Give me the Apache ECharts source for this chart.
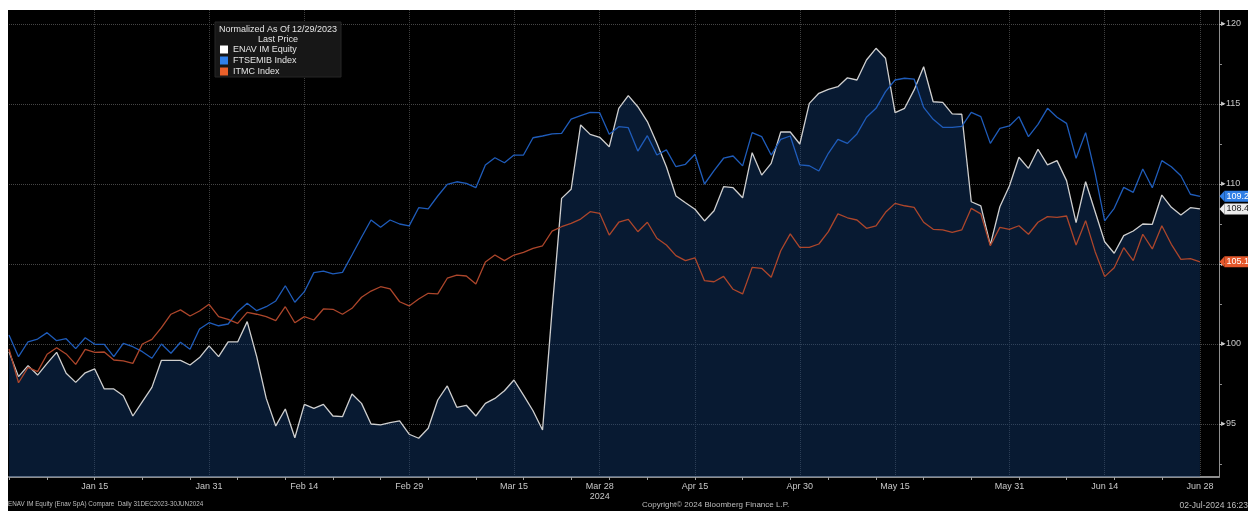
<!DOCTYPE html>
<html>
<head>
<meta charset="utf-8">
<script src="https://cdn.jsdelivr.net/npm/echarts@6/dist/echarts.min.js"></script>
<style>
  html, body { margin: 0; padding: 0; background: #fff; }
  #chart { position: absolute; left: 8px; top: 10px; width: 1240px; height: 501px; background: #000; }
</style>
</head>
<body>
<div id="chart"></div>
<script>
// trading days, normalized to 100 on 12/29/2023
var dates = [
  '2024-01-02','2024-01-03','2024-01-04','2024-01-05','2024-01-08','2024-01-09','2024-01-10','2024-01-11','2024-01-12',
  '2024-01-15','2024-01-16','2024-01-17','2024-01-18','2024-01-19','2024-01-22','2024-01-23','2024-01-24','2024-01-25',
  '2024-01-26','2024-01-29','2024-01-30','2024-01-31',
  '2024-02-01','2024-02-02','2024-02-05','2024-02-06','2024-02-07','2024-02-08','2024-02-09','2024-02-12','2024-02-13',
  '2024-02-14','2024-02-15','2024-02-16','2024-02-19','2024-02-20','2024-02-21','2024-02-22','2024-02-23','2024-02-26',
  '2024-02-27','2024-02-28','2024-02-29',
  '2024-03-01','2024-03-04','2024-03-05','2024-03-06','2024-03-07','2024-03-08','2024-03-11','2024-03-12','2024-03-13',
  '2024-03-14','2024-03-15','2024-03-18','2024-03-19','2024-03-20','2024-03-21','2024-03-22','2024-03-25','2024-03-26',
  '2024-03-27','2024-03-28',
  '2024-04-02','2024-04-03','2024-04-04','2024-04-05','2024-04-08','2024-04-09','2024-04-10','2024-04-11','2024-04-12',
  '2024-04-15','2024-04-16','2024-04-17','2024-04-18','2024-04-19','2024-04-22','2024-04-23','2024-04-24','2024-04-25',
  '2024-04-26','2024-04-29','2024-04-30',
  '2024-05-02','2024-05-03','2024-05-06','2024-05-07','2024-05-08','2024-05-09','2024-05-10','2024-05-13','2024-05-14',
  '2024-05-15','2024-05-16','2024-05-17','2024-05-20','2024-05-21','2024-05-22','2024-05-23','2024-05-24','2024-05-27',
  '2024-05-28','2024-05-29','2024-05-30','2024-05-31',
  '2024-06-03','2024-06-04','2024-06-05','2024-06-06','2024-06-07','2024-06-10','2024-06-11','2024-06-12','2024-06-13',
  '2024-06-14','2024-06-17','2024-06-18','2024-06-19','2024-06-20','2024-06-21','2024-06-24','2024-06-25','2024-06-26',
  '2024-06-27','2024-06-28'
];

var labelDates = ['2024-01-15','2024-01-31','2024-02-14','2024-02-29','2024-03-15','2024-03-28',
                  '2024-04-15','2024-04-30','2024-05-15','2024-05-31','2024-06-14','2024-06-28'];
var yearLabelDate = '2024-03-28';
var monthNames = ['Jan','Feb','Mar','Apr','May','Jun','Jul','Aug','Sep','Oct','Nov','Dec'];

var yTicks = [95, 100, 105, 110, 115, 120];
var yMinorTicks = [92.5, 97.5, 102.5, 107.5, 112.5, 117.5];

var enav = [
  99.52, 97.96, 98.65, 98.06, 98.79, 99.48, 98.17, 97.6, 98.2, 98.44,
  97.19, 97.19, 96.77, 95.5, 96.4, 97.29, 98.98, 98.98, 98.98, 98.69,
  99.15, 99.88, 99.21, 100.13, 100.13, 101.4, 99.21, 96.6, 94.88, 95.94,
  94.14, 96.23, 95.98, 96.23, 95.5, 95.46, 96.88, 96.29, 95.0, 94.94,
  95.08, 95.19, 94.36, 94.11, 94.73, 96.5, 97.38, 96.04, 96.17, 95.5,
  96.29, 96.6, 97.08, 97.75, 96.81, 95.83, 94.63, 102.1, 109.1, 109.67,
  113.69, 113.1, 112.92, 112.33, 114.73, 115.52, 114.83, 113.9, 112.54, 111.08,
  109.25, 108.83, 108.42, 107.69, 108.33, 109.83, 109.77, 109.14, 111.96, 110.56,
  111.29, 113.25, 113.25, 112.5, 115.04, 115.67, 115.92, 116.08, 116.64, 116.5,
  117.75, 118.48, 117.86, 114.46, 114.73, 115.88, 117.33, 115.14, 115.1, 114.38,
  114.36, 108.89, 108.63, 106.19, 108.58, 109.88, 111.67, 110.98, 112.17, 111.19,
  111.46, 110.21, 107.58, 110.14, 108.27, 106.39, 105.67, 106.77, 107.06, 107.5,
  107.48, 109.31, 108.54, 108.06, 108.52, 108.44
];

var ftsemib = [
  100.56, 99.21, 100.14, 100.31, 100.71, 100.21, 100.33, 99.71, 100.39, 99.98,
  99.98, 99.21, 100.04, 99.83, 99.52, 99.11, 100.0, 99.42, 100.11, 99.67,
  100.94, 101.33, 101.14, 101.25, 102.02, 102.54, 102.08, 102.33, 102.69, 103.64,
  102.61, 103.27, 104.46, 104.56, 104.38, 104.48, 105.56, 106.67, 107.75, 107.29,
  107.75, 107.5, 107.38, 108.52, 108.44, 109.25, 109.98, 110.14, 110.04, 109.77,
  111.19, 111.64, 111.33, 111.81, 111.81, 112.89, 113.0, 113.13, 113.17, 114.06,
  114.27, 114.48, 114.46, 113.11, 113.58, 113.52, 112.06, 113.02, 111.81, 112.13,
  111.08, 111.23, 111.86, 110.0, 110.83, 111.61, 111.75, 111.13, 113.21, 112.96,
  111.81, 112.79, 113.0, 111.19, 111.14, 110.81, 111.92, 112.79, 112.54, 113.13,
  114.17, 114.73, 115.77, 116.5, 116.61, 116.56, 114.79, 114.04, 113.54, 113.54,
  113.6, 114.48, 114.21, 112.54, 113.48, 113.63, 114.21, 112.96, 113.73, 114.73,
  114.17, 113.79, 111.61, 113.21, 110.67, 107.69, 108.48, 109.79, 109.48, 110.94,
  109.77, 111.46, 111.08, 110.52, 109.36, 109.23
];

var itmc = [
  99.69, 97.58, 98.54, 98.27, 99.36, 99.77, 99.38, 98.73, 99.67, 99.48,
  99.5, 99.0, 98.94, 98.79, 100.0, 100.29, 101.02, 101.86, 102.13, 101.75,
  102.06, 102.48, 101.71, 101.54, 101.29, 101.98, 101.86, 101.71, 101.46, 102.33,
  101.33, 101.71, 101.5, 102.19, 102.17, 101.86, 102.23, 102.92, 103.31, 103.58,
  103.44, 102.64, 102.38, 102.81, 103.17, 103.13, 104.11, 104.31, 104.25, 103.75,
  105.12, 105.56, 105.21, 105.56, 105.73, 105.98, 106.14, 107.06, 107.33, 107.54,
  107.81, 108.27, 108.17, 106.81, 107.61, 107.79, 107.02, 107.61, 106.61, 106.19,
  105.52, 105.21, 105.39, 103.96, 103.89, 104.23, 103.42, 103.13, 104.79, 104.73,
  104.17, 105.83, 106.88, 106.04, 106.04, 106.25, 107.02, 108.13, 107.89, 107.75,
  107.23, 107.39, 108.23, 108.79, 108.64, 108.54, 107.61, 107.17, 107.13, 106.98,
  107.13, 108.48, 108.13, 106.14, 107.29, 107.17, 107.39, 106.86, 107.61, 107.96,
  107.92, 108.0, 106.19, 107.71, 105.77, 104.21, 104.77, 106.02, 105.21, 106.86,
  105.94, 107.39, 106.23, 105.29, 105.33, 105.14
];

var fontFamily = '"Liberation Sans", Arial, sans-serif';

// two empty slots after the last day leave the gap before the price axis
var cats = dates.concat([' ', '  ']);
var tagIndex = cats.length - 1;

function weekStart(i) {
    if (i >= dates.length) return false;
    if (i === 0) return true;
    var a = new Date(dates[i] + 'T00:00:00Z').getUTCDay();
    var b = new Date(dates[i - 1] + 'T00:00:00Z').getUTCDay();
    return a < b;
}

function isLabel(i, v) {
    return labelDates.indexOf(v) >= 0;
}

function lastTag(values, bg, fg) {
    var v = values[values.length - 1];
    return {
        symbol: 'path://M0,5 L6,0 L6,10 Z',
        symbolSize: [5, 11],
        symbolOffset: [3, 0],
        silent: true,
        data: [{ coord: [tagIndex, v], value: v }],
        itemStyle: { color: bg },
        label: {
            show: true,
            position: 'right',
            distance: 0,
            formatter: '{c}',
            color: fg,
            backgroundColor: bg,
            fontFamily: fontFamily,
            fontSize: 9,
            lineHeight: 11,
            padding: [0, 2, 0, 2]
        }
    };
}

var chart = echarts.init(document.getElementById('chart'));
chart.setOption({
    backgroundColor: '#000',
    animation: false,
    textStyle: { fontFamily: fontFamily },
    grid: { left: 1, right: 29, top: 0, bottom: 34 },
    title: [
        {
            text: 'ENAV IM Equity (Enav SpA) Compare  Daily 31DEC2023-30JUN2024',
            left: 0, top: 491, padding: 0,
            textStyle: { color: '#bdbdbd', fontSize: 6.3, fontWeight: 'normal', fontFamily: fontFamily }
        },
        {
            text: 'Copyright\u00a9 2024 Bloomberg Finance L.P.',
            left: 634, top: 491, padding: 0,
            textStyle: { color: '#bdbdbd', fontSize: 8, fontWeight: 'normal', fontFamily: fontFamily }
        },
        {
            text: '02-Jul-2024 16:23',
            right: 0, top: 491, padding: 0,
            textStyle: { color: '#bdbdbd', fontSize: 8.5, fontWeight: 'normal', fontFamily: fontFamily }
        }
    ],
    graphic: [
        {
            type: 'rect', z: 1,
            shape: { x: 207, y: 12, width: 126, height: 55 },
            style: { fill: '#171717', stroke: '#262626', lineWidth: 1 }
        },
        {
            type: 'text', z: 5, x: 270, y: 20,
            style: {
                text: 'Normalized As Of 12/29/2023', fill: '#e4e4e4',
                font: '9px ' + fontFamily,
                align: 'center', verticalAlign: 'middle',
                textAlign: 'center', textVerticalAlign: 'middle'
            }
        },
        {
            type: 'text', z: 5, x: 270, y: 30,
            style: {
                text: 'Last Price', fill: '#e4e4e4',
                font: '9px ' + fontFamily,
                align: 'center', verticalAlign: 'middle',
                textAlign: 'center', textVerticalAlign: 'middle'
            }
        }
    ],
    legend: {
        orient: 'vertical',
        left: 212, top: 35,
        padding: 0,
        itemWidth: 8, itemHeight: 8, itemGap: 2,
        icon: 'rect',
        selectedMode: false,
        textStyle: { color: '#e4e4e4', fontSize: 9, fontFamily: fontFamily },
        data: [
            { name: 'ENAV IM Equity', itemStyle: { color: '#ffffff' } },
            { name: 'FTSEMIB Index', itemStyle: { color: '#2f80ea' } },
            { name: 'ITMC Index', itemStyle: { color: '#ea602a' } }
        ]
    },
    xAxis: {
        type: 'category',
        data: cats,
        boundaryGap: false,
        axisLine: { lineStyle: { color: '#8e8e8e', width: 2 } },
        axisTick: { interval: weekStart, length: 3, lineStyle: { color: '#a0a0a0' } },
        axisLabel: {
            interval: isLabel,
            color: '#c8c8c8',
            fontSize: 9,
            margin: 5,
            lineHeight: 10,
            formatter: function (v) {
                var d = new Date(v + 'T00:00:00Z');
                var s = monthNames[d.getUTCMonth()] + ' ' + d.getUTCDate();
                return v === yearLabelDate ? s + '\n2024' : s;
            }
        },
        splitLine: { show: true, interval: isLabel, lineStyle: { color: '#3f3f3f', type: 'dotted' } }
    },
    yAxis: [
        {
            type: 'value',
            position: 'right',
            min: 91.6875,
            max: 120.875,
            axisLine: { show: true, lineStyle: { color: '#8e8e8e' } },
            axisTick: { show: true, customValues: yTicks, length: 5, lineStyle: { color: '#bdbdbd' } },
            axisLabel: {
                customValues: yTicks, color: '#c8c8c8', fontSize: 9, margin: 2,
                formatter: function (v) { return '\u25B8' + v; }
            },
            splitLine: { show: true, lineStyle: { color: '#454545', type: 'dotted' } }
        },
        {
            type: 'value',
            position: 'right',
            min: 91.6875,
            max: 120.875,
            axisLine: { show: false },
            axisTick: { show: true, customValues: yMinorTicks, length: 3, lineStyle: { color: '#8e8e8e' } },
            axisLabel: { show: false },
            splitLine: { show: false }
        }
    ],
    series: [
        {
            name: 'ENAV IM Equity',
            type: 'line',
            data: enav,
            showSymbol: false,
            color: '#cfcfcf',
            lineStyle: { width: 1.3, color: '#cfcfcf' },
            areaStyle: { color: 'rgba(20,62,118,0.6)', origin: 'start' },
            markPoint: lastTag(enav, '#ececec', '#1a1a1a'),
            z: 2
        },
        {
            name: 'FTSEMIB Index',
            type: 'line',
            data: ftsemib,
            showSymbol: false,
            color: '#1f5cba',
            lineStyle: { width: 1.3, color: '#1f5cba' },
            markPoint: lastTag(ftsemib, '#2f7fe6', '#ffffff'),
            z: 3
        },
        {
            name: 'ITMC Index',
            type: 'line',
            data: itmc,
            showSymbol: false,
            color: '#ad462b',
            lineStyle: { width: 1.3, color: '#ad462b' },
            markPoint: lastTag(itmc, '#e4572b', '#ffffff'),
            z: 3
        }
    ]
});
</script>
</body>
</html>
